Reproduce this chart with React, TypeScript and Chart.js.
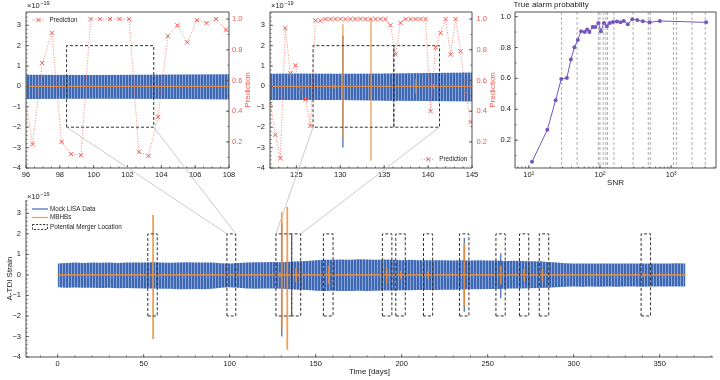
import React, { useEffect, useRef } from 'react';
import { Chart, registerables } from 'chart.js';

Chart.register(...registerables);

const FONT = "'Liberation Sans', Arial, Helvetica, sans-serif";
const TEXT = '#1c1c1c';
const FRAME = '#505050';
const BLUE_DARK = '#3f68b2';
const BLUE_LIGHT = '#88a6db';
const ORANGE = 'rgba(236,142,58,0.85)';
const RED = '#f2584d';
const RED_LINE = 'rgba(242,88,77,0.8)';
const PURPLE = '#7556bf';
const LINK = '#bdbdbd';
const BOX = '#333333';

// ---------------- data ----------------
// Mock LISA data: strain envelope (x1e-19), sampled every 5 days
const envelopeDays = [0, 5, 10, 15, 20, 25, 30, 35, 40, 45, 50, 55, 60, 65, 70, 75, 80, 85, 90, 95, 100, 105, 110, 115, 120, 125, 130, 135, 140, 145, 150, 155, 160, 165, 170, 175, 180, 185, 190, 195, 200, 205, 210, 215, 220, 225, 230, 235, 240, 245, 250, 255, 260, 265, 270, 275, 280, 285, 290, 295, 300, 305, 310, 315, 320, 325, 330, 335, 340, 345, 350, 355, 360, 365];
const envelopeUpper = [0.56, 0.58, 0.6, 0.58, 0.61, 0.59, 0.6, 0.58, 0.6, 0.61, 0.6, 0.62, 0.6, 0.59, 0.61, 0.62, 0.6, 0.61, 0.6, 0.57, 0.56, 0.58, 0.6, 0.62, 0.62, 0.63, 0.62, 0.64, 0.66, 0.68, 0.72, 0.74, 0.74, 0.75, 0.74, 0.76, 0.75, 0.74, 0.75, 0.74, 0.72, 0.74, 0.72, 0.72, 0.71, 0.72, 0.7, 0.72, 0.7, 0.71, 0.7, 0.7, 0.68, 0.69, 0.68, 0.66, 0.66, 0.63, 0.6, 0.57, 0.55, 0.56, 0.55, 0.56, 0.55, 0.56, 0.55, 0.56, 0.55, 0.56, 0.55, 0.56, 0.57, 0.55];
const envelopeLower = [-0.6, -0.62, -0.61, -0.63, -0.62, -0.64, -0.63, -0.65, -0.64, -0.65, -0.66, -0.66, -0.67, -0.68, -0.7, -0.7, -0.69, -0.7, -0.68, -0.62, -0.6, -0.62, -0.66, -0.68, -0.66, -0.66, -0.67, -0.7, -0.72, -0.74, -0.77, -0.78, -0.77, -0.78, -0.79, -0.77, -0.78, -0.77, -0.76, -0.76, -0.75, -0.75, -0.74, -0.73, -0.74, -0.72, -0.72, -0.71, -0.7, -0.7, -0.69, -0.69, -0.68, -0.66, -0.66, -0.65, -0.64, -0.62, -0.6, -0.58, -0.57, -0.58, -0.56, -0.58, -0.57, -0.58, -0.57, -0.56, -0.58, -0.57, -0.56, -0.57, -0.56, -0.56];
// signal peaks visible in the mock data
const dataSpikeDays = [130.3, 236.4, 257.6];
const dataSpikeHi = [2.5, 1.8, 1.06];
const dataSpikeLo = [-3.0, -1.8, -1.14];

// MBHB signals
const mbhbBaselineDays = [0, 365];
const mbhbDays = [55.5, 129.3, 130.3, 133.5, 138.6, 140.6, 157.6, 191.3, 199.6, 215.4, 236.4, 257.6, 271.2, 281.8, 340.6];
const mbhbHi = [2.92, 0.1, 3.05, 3.32, 0.35, 0.1, 0.45, 0.35, 0.2, 0.2, 1.55, 0.45, 0.3, 0.3, 0.1];
const mbhbLo = [-3.12, -0.1, -2.55, -3.65, -0.35, -0.1, -0.45, -0.4, -0.2, -0.2, -1.55, -0.45, -0.3, -0.3, -0.1];

// Potential merger locations (days), boxes spanning strain -2..2
const boxStart = [52.4, 98.4, 126.9, 136.1, 154.5, 188.8, 196.6, 212.7, 233.6, 254.8, 268.5, 280.0, 339.2];
const boxEnd = [57.9, 103.55, 136.1, 141.3, 160.1, 194.3, 202.1, 218.0, 239.1, 260.2, 273.9, 285.5, 344.7];
const boxLow = -2;
const boxHigh = 2;

// Predictions, zoom A (96-108 days)
const predDaysA = [95.82, 96.39, 96.96, 97.53, 98.1, 98.67, 99.25, 99.82, 100.39, 100.96, 101.53, 102.1, 102.67, 103.24, 103.81, 104.38, 104.95, 105.53, 106.1, 106.67, 107.24, 107.81, 108.38];
const predA = [0.57, 0.185, 0.713, 0.911, 0.2, 0.12, 0.113, 1.0, 1.0, 1.0, 1.0, 1.0, 0.135, 0.109, 0.363, 0.889, 0.959, 0.848, 0.993, 0.974, 1.0, 0.93, 0.9];

// Predictions, zoom B (122-145 days)
const predDaysB = [122.04, 122.61, 123.18, 123.75, 124.32, 124.89, 125.46, 126.03, 126.6, 127.17, 127.74, 128.31, 128.88, 129.45, 130.02, 130.59, 131.16, 131.73, 132.3, 132.87, 133.44, 134.01, 134.58, 135.15, 135.72, 136.29, 136.86, 137.43, 138.0, 138.57, 139.14, 139.71, 140.28, 140.85, 141.42, 141.99, 142.56, 143.13, 143.7, 144.27, 144.84];
const predB = [0.45, 0.246, 0.093, 0.941, 0.646, 0.698, 0.541, 0.476, 0.304, 0.991, 0.989, 1.0, 1.0, 1.0, 1.0, 1.0, 1.0, 1.0, 1.0, 1.0, 1.0, 1.0, 1.0, 1.0, 0.96, 0.77, 0.975, 1.0, 1.0, 1.0, 1.0, 1.0, 0.4, 0.815, 0.91, 1.0, 0.77, 1.0, 0.79, 0.52, 0.33];

// True alarm probability vs SNR
const snrValues = [11.1, 18.2, 23.8, 28.6, 34.3, 39.0, 43.8, 48.8, 54.3, 61.0, 66.0, 71.0, 79.0, 86.0, 94.8, 103, 114, 125, 138, 153, 173, 194, 216, 246, 285, 335, 400, 499, 694, 3100];
const alarmProb = [0.06, 0.267, 0.459, 0.597, 0.603, 0.722, 0.802, 0.849, 0.905, 0.901, 0.916, 0.901, 0.933, 0.933, 0.959, 0.905, 0.959, 0.937, 0.959, 0.966, 0.968, 0.963, 0.972, 0.95, 0.983, 0.978, 0.97, 0.963, 0.972, 0.963];
const mbhbSnr = [28.9, 47.7, 94.9, 100, 111, 121, 128, 157, 292, 477, 509, 1079, 1187, 1963, 3014];

// ticks
const strainTicks = [-4, -3, -2, -1, 0, 1, 2, 3];
const predTicks = [0.2, 0.4, 0.6, 0.8, 1.0];
const zoomATicks = [96, 98, 100, 102, 104, 106, 108];
const zoomBTicks = [125, 130, 135, 140, 145];
const dayTicks = [0, 50, 100, 150, 200, 250, 300, 350];
const snrTicks = [10, 100, 1000];
const snrTickLabels = ['10¹', '10²', '10³'];
const probTicks = [0.2, 0.4, 0.6, 0.8, 1.0];

// axis limits
const STRAIN_MIN = -4, STRAIN_MAX = 3.65;
const PRED_MIN = 0.03, PRED_MAX = 1.046;
const PROB_MIN = 0.02, PROB_MAX = 1.03;
const SNR_MIN = 6.4, SNR_MAX = 4270;
const DAY_MIN = -18.4, DAY_MAX = 381;
const ZOOM_A_MIN = 96, ZOOM_A_MAX = 108;
const ZOOM_B_MIN = 122, ZOOM_B_MAX = 145;

// layout of the four panels
const PANELS = [
  { left: 0, top: 0, width: 262, height: 182 },
  { left: 240, top: 0, width: 270, height: 182 },
  { left: 490, top: 0, width: 230, height: 200 },
  { left: 0, top: 186, width: 720, height: 194 },
];

// ---------------- helpers ----------------
function steps(a: number, b: number, step: number) {
  const out: number[] = [];
  for (let v = a; v <= b + 1e-9; v += step) out.push(Math.round(v * 1000) / 1000);
  return out;
}
function logMinor(lo: number, hi: number) {
  const out: number[] = [];
  for (let p = 1; p <= 1000; p *= 10) for (let m = 1; m <= 9; m++) { const v = m * p; if (v >= lo && v <= hi) out.push(v); }
  return out;
}
function segments(xs: number[], his: number[], los: number[]) {
  const out: any[] = [];
  xs.forEach((x, i) => { out.push({ x, y: his[i] }, { x, y: los[i] }, { x, y: null }); });
  return out;
}
function boxPath() {
  const out: any[] = [];
  boxStart.forEach((s, i) => {
    const e = boxEnd[i];
    out.push({ x: s, y: boxLow }, { x: s, y: boxHigh }, { x: e, y: boxHigh }, { x: e, y: boxLow }, { x: s, y: boxLow }, { x: s, y: null });
  });
  return out;
}
const fmtStrain = (v: number) => (v < 0 ? '\u2212' + Math.abs(v) : String(v));
const fmtFixed = (v: number) => v.toFixed(1);

function stripePattern(canvas: HTMLCanvasElement) {
  const c = document.createElement('canvas');
  c.width = 3; c.height = 1;
  const g = c.getContext('2d')!;
  g.fillStyle = BLUE_DARK; g.fillRect(0, 0, 3, 1);
  g.fillStyle = BLUE_LIGHT; g.fillRect(2, 0, 1, 1);
  return canvas.getContext('2d')!.createPattern(c, 'repeat')!;
}

function strainDatasets(pattern: any, orangeWidth: number) {
  const baseline = [{ x: mbhbBaselineDays[0], y: 0 }, { x: mbhbBaselineDays[1], y: 0 }, { x: mbhbBaselineDays[1], y: null }];
  return [
    { label: 'Mock LISA Data', data: envelopeDays.map((x, i) => ({ x, y: envelopeUpper[i] })), borderWidth: 0, borderColor: 'rgba(0,0,0,0)', pointRadius: 0, fill: '+1', backgroundColor: pattern, order: 6, yAxisID: 'y', clip: 0 },
    { label: 'lower', data: envelopeDays.map((x, i) => ({ x, y: envelopeLower[i] })), borderWidth: 0, borderColor: 'rgba(0,0,0,0)', pointRadius: 0, fill: false, order: 7, yAxisID: 'y', clip: 0 },
    { label: 'spikes', data: segments(dataSpikeDays, dataSpikeHi, dataSpikeLo), borderColor: BLUE_DARK, borderWidth: 1.2, pointRadius: 0, order: 5, yAxisID: 'y', clip: 0 },
    { label: 'MBHBs', data: [...baseline, ...segments(mbhbDays, mbhbHi, mbhbLo)], borderColor: ORANGE, borderWidth: orangeWidth, pointRadius: 0, order: 4, yAxisID: 'y', clip: 0 },
    { label: 'Potential Merger Location', data: boxPath(), borderColor: BOX, borderWidth: 1, borderDash: [3, 2], pointRadius: 0, order: 3, yAxisID: 'y', clip: 0 },
  ];
}
function predDataset(days: number[], vals: number[]) {
  return {
    label: 'Prediction', data: days.map((x, i) => ({ x, y: vals[i] })), yAxisID: 'y1',
    borderColor: RED_LINE, borderWidth: 0.9, borderDash: [1, 1.6],
    pointStyle: 'crossRot', pointRadius: 3, pointBorderColor: RED, pointBorderWidth: 1, pointBackgroundColor: RED,
    order: 0, clip: 0,
  };
}

function linScale(min: number, max: number, ticks: number[], size: number, opts: any = {}) {
  const horizontal = opts.position === 'bottom' || !opts.position;
  return {
    type: opts.type || 'linear',
    position: opts.position || 'bottom',
    min, max,
    afterBuildTicks: (s: any) => { s.ticks = ticks.map((v) => ({ value: v })); },
    afterFit: (s: any) => { if (horizontal) s.height = size; else s.width = size; },
    grid: { display: false, drawTicks: false },
    border: { display: false },
    ticks: {
      font: { size: 7.5, family: FONT }, color: opts.color || TEXT, padding: opts.padding ?? 2,
      maxRotation: 0, minRotation: 0, autoSkip: false,
      callback: opts.fmt || ((v: number) => String(v)),
    },
  };
}

type TickSpec = { id: string; side: 'left' | 'right' | 'bottom'; major: number[]; minor: number[] };
function decor(frame: 'box' | 'lb', specs: TickSpec[], extra: (ctx: CanvasRenderingContext2D, a: any) => void) {
  return {
    id: 'decor',
    afterDraw(chart: any) {
      const ctx: CanvasRenderingContext2D = chart.ctx;
      const a = chart.chartArea;
      ctx.save();
      ctx.strokeStyle = FRAME;
      ctx.lineWidth = 0.8;
      for (const t of specs) {
        const s = chart.scales[t.id];
        const draw = (v: number, len: number) => {
          if (v < s.min || v > s.max) return;
          const p = s.getPixelForValue(v);
          ctx.beginPath();
          if (t.side === 'left') { ctx.moveTo(a.left, p); ctx.lineTo(a.left + len, p); }
          else if (t.side === 'right') { ctx.moveTo(a.right, p); ctx.lineTo(a.right - len, p); }
          else { ctx.moveTo(p, a.bottom); ctx.lineTo(p, a.bottom - len); }
          ctx.stroke();
        };
        t.minor.forEach((v) => draw(v, 1.6));
        t.major.forEach((v) => draw(v, 3));
      }
      ctx.lineWidth = 1;
      ctx.beginPath();
      if (frame === 'box') {
        ctx.rect(a.left, a.top, a.right - a.left, a.bottom - a.top);
      } else {
        ctx.moveTo(a.left, a.top); ctx.lineTo(a.left, a.bottom); ctx.lineTo(a.right, a.bottom);
      }
      ctx.stroke();
      extra(ctx, a);
      ctx.restore();
    },
  };
}

function sciLabel(ctx: CanvasRenderingContext2D, x: number, y: number) {
  ctx.fillStyle = TEXT;
  ctx.textAlign = 'left';
  ctx.textBaseline = 'alphabetic';
  ctx.font = `7.5px ${FONT}`;
  ctx.fillText('×10', x, y);
  const w = ctx.measureText('×10').width;
  ctx.font = `5.5px ${FONT}`;
  ctx.fillText('\u221219', x + w + 0.5, y - 3.5);
}
function rotatedText(ctx: CanvasRenderingContext2D, s: string, x: number, y: number, color: string, size: number) {
  ctx.save();
  ctx.translate(x, y);
  ctx.rotate(-Math.PI / 2);
  ctx.fillStyle = color;
  ctx.font = `${size}px ${FONT}`;
  ctx.textAlign = 'center';
  ctx.textBaseline = 'middle';
  ctx.fillText(s, 0, 0);
  ctx.restore();
}
function plainText(ctx: CanvasRenderingContext2D, s: string, x: number, y: number, size: number, align: CanvasTextAlign) {
  ctx.fillStyle = TEXT;
  ctx.font = `${size}px ${FONT}`;
  ctx.textAlign = align;
  ctx.textBaseline = 'middle';
  ctx.fillText(s, x, y);
}
function predLegend(ctx: CanvasRenderingContext2D, x0: number, y: number) {
  ctx.save();
  ctx.strokeStyle = RED_LINE; ctx.lineWidth = 0.9; ctx.setLineDash([1, 1.6]);
  ctx.beginPath(); ctx.moveTo(x0, y); ctx.lineTo(x0 + 13, y); ctx.stroke();
  ctx.setLineDash([]);
  ctx.strokeStyle = RED; ctx.lineWidth = 1;
  const cx = x0 + 6.5, r = 2.1;
  ctx.beginPath();
  ctx.moveTo(cx - r, y - r); ctx.lineTo(cx + r, y + r);
  ctx.moveTo(cx - r, y + r); ctx.lineTo(cx + r, y - r);
  ctx.stroke();
  ctx.restore();
  plainText(ctx, 'Prediction', x0 + 17.5, y, 6.3, 'left');
}

const baseOptions = (padding: any) => ({
  responsive: false,
  animation: false as const,
  events: [] as any[],
  layout: { padding },
  plugins: { legend: { display: false }, tooltip: { enabled: false }, title: { display: false } },
});

// ---------------- component ----------------
export default function App() {
  const r0 = useRef<HTMLCanvasElement>(null);
  const r1 = useRef<HTMLCanvasElement>(null);
  const r2 = useRef<HTMLCanvasElement>(null);
  const r3 = useRef<HTMLCanvasElement>(null);
  const ov = useRef<HTMLCanvasElement>(null);

  useEffect(() => {
    Chart.defaults.font.family = FONT;
    const cv = [r0.current!, r1.current!, r2.current!, r3.current!];
    const charts: any[] = [];

    // Panel A: zoom 96-108
    charts.push(new Chart(cv[0], {
      type: 'line',
      data: { datasets: [predDataset(predDaysA, predA), ...strainDatasets(stripePattern(cv[0]), 1.3)] as any },
      options: {
        ...baseOptions({ top: 12, left: 0, right: 0, bottom: 0 }),
        scales: {
          x: linScale(ZOOM_A_MIN, ZOOM_A_MAX, zoomATicks, 14),
          y: linScale(STRAIN_MIN, STRAIN_MAX, strainTicks, 26, { position: 'left', padding: 5, fmt: fmtStrain }),
          y1: linScale(PRED_MIN, PRED_MAX, predTicks, 33, { position: 'right', padding: 3, color: RED, fmt: fmtFixed }),
        },
      } as any,
      plugins: [decor('box', [
        { id: 'x', side: 'bottom', major: zoomATicks, minor: steps(96, 108, 0.5) },
        { id: 'y', side: 'left', major: strainTicks, minor: steps(-4, 3.6, 0.2) },
        { id: 'y1', side: 'right', major: predTicks, minor: steps(0.1, 1.0, 0.1) },
      ], (ctx, a) => {
        sciLabel(ctx, a.left + 1, a.top - 4);
        predLegend(ctx, a.left + 6, a.top + 8);
        rotatedText(ctx, 'Prediction', a.right + 19, (a.top + a.bottom) / 2, RED, 8);
      })],
    }));

    // Panel B: zoom 122-145
    charts.push(new Chart(cv[1], {
      type: 'line',
      data: { datasets: [predDataset(predDaysB, predB), ...strainDatasets(stripePattern(cv[1]), 1.3)] as any },
      options: {
        ...baseOptions({ top: 12, left: 0, right: 0, bottom: 0 }),
        scales: {
          x: linScale(ZOOM_B_MIN, ZOOM_B_MAX, zoomBTicks, 14),
          y: linScale(STRAIN_MIN, STRAIN_MAX, strainTicks, 30, { position: 'left', padding: 5, fmt: fmtStrain }),
          y1: linScale(PRED_MIN, PRED_MAX, predTicks, 38, { position: 'right', padding: 4.5, color: RED, fmt: fmtFixed }),
        },
      } as any,
      plugins: [decor('box', [
        { id: 'x', side: 'bottom', major: zoomBTicks, minor: steps(122, 145, 1) },
        { id: 'y', side: 'left', major: strainTicks, minor: steps(-4, 3.6, 0.2) },
        { id: 'y1', side: 'right', major: predTicks, minor: steps(0.1, 1.0, 0.1) },
      ], (ctx, a) => {
        sciLabel(ctx, a.left + 1, a.top - 4);
        predLegend(ctx, a.right - 50.3, a.bottom - 8.7);
        rotatedText(ctx, 'Prediction', a.right + 21, (a.top + a.bottom) / 2, RED, 8);
      })],
    }));

    // Panel C: true alarm probability vs SNR
    charts.push(new Chart(cv[2], {
      type: 'line',
      data: {
        datasets: [
          { label: 'prob', data: snrValues.map((x, i) => ({ x, y: alarmProb[i] })), borderColor: PURPLE, borderWidth: 1, pointRadius: 2, pointBackgroundColor: PURPLE, pointBorderWidth: 0, order: 0, clip: 0 },
          { label: 'mbhb', data: segments(mbhbSnr, mbhbSnr.map(() => PROB_MAX), mbhbSnr.map(() => PROB_MIN)), borderColor: '#9a9a9a', borderWidth: 0.8, borderDash: [3, 2], pointRadius: 0, order: 1, clip: 0 },
        ] as any,
      },
      options: {
        ...baseOptions({ top: 12, left: 0, right: 3, bottom: 0 }),
        scales: {
          x: linScale(SNR_MIN, SNR_MAX, snrTicks, 32, { type: 'logarithmic', fmt: (v: number) => snrTickLabels[snrTicks.indexOf(v)] ?? '' }),
          y: linScale(PROB_MIN, PROB_MAX, probTicks, 25, { position: 'left', padding: 4, fmt: fmtFixed }),
        },
      } as any,
      plugins: [decor('box', [
        { id: 'x', side: 'bottom', major: snrTicks, minor: logMinor(SNR_MIN, SNR_MAX) },
        { id: 'y', side: 'left', major: probTicks, minor: steps(0.1, 1.0, 0.1) },
      ], (ctx, a) => {
        plainText(ctx, 'True alarm probablity', a.left - 1.5, 5, 8, 'left');
        plainText(ctx, 'SNR', (a.left + a.right) / 2, 183, 8, 'center');
      })],
    }));

    // Panel D: full year
    charts.push(new Chart(cv[3], {
      type: 'line',
      data: { datasets: strainDatasets(stripePattern(cv[3]), 1.8) as any },
      options: {
        ...baseOptions({ top: 14, left: 0, right: 7, bottom: 0 }),
        scales: {
          x: linScale(DAY_MIN, DAY_MAX, dayTicks, 23),
          y: linScale(STRAIN_MIN, STRAIN_MAX, strainTicks, 26, { position: 'left', padding: 5, fmt: fmtStrain }),
        },
      } as any,
      plugins: [decor('lb', [
        { id: 'x', side: 'bottom', major: dayTicks, minor: steps(-10, 380, 10) },
        { id: 'y', side: 'left', major: strainTicks, minor: steps(-4, 3.6, 0.2) },
      ], (ctx, a) => {
        sciLabel(ctx, a.left + 1, a.top - 1);
        const lx = a.left + 6, lw = 16;
        ctx.save();
        ctx.lineWidth = 1.2;
        ctx.strokeStyle = BLUE_DARK;
        ctx.beginPath(); ctx.moveTo(lx, a.top + 9); ctx.lineTo(lx + lw, a.top + 9); ctx.stroke();
        ctx.strokeStyle = ORANGE;
        ctx.beginPath(); ctx.moveTo(lx, a.top + 17.5); ctx.lineTo(lx + lw, a.top + 17.5); ctx.stroke();
        ctx.lineWidth = 1;
        ctx.setLineDash([2, 1.5]);
        ctx.strokeStyle = BOX;
        ctx.strokeRect(lx + 0.5, a.top + 24.5, lw - 1, 5);
        ctx.restore();
        plainText(ctx, 'Mock LISA Data', a.left + 24, a.top + 9, 6.3, 'left');
        plainText(ctx, 'MBHBs', a.left + 24, a.top + 17.5, 6.3, 'left');
        plainText(ctx, 'Potential Merger Location', a.left + 24, a.top + 27, 6.3, 'left');
        rotatedText(ctx, 'A-TDI Strain', 10, (a.top + a.bottom) / 2, TEXT, 8);
        plainText(ctx, 'Time [days]', (a.left + a.right) / 2, 186, 8, 'center');
      })],
    }));

    // zoom connection lines
    const o = ov.current!;
    const octx = o.getContext('2d')!;
    octx.clearRect(0, 0, o.width, o.height);
    const main = charts[3];
    const links = [
      { panel: 0, day: boxStart[1] },
      { panel: 0, day: boxEnd[1] },
      { panel: 1, day: boxStart[2] },
      { panel: 1, day: boxEnd[3] },
    ];
    octx.strokeStyle = LINK;
    octx.lineWidth = 0.8;
    links.forEach((l) => {
      const c = charts[l.panel];
      const p = PANELS[l.panel];
      const x0 = p.left + c.scales.x.getPixelForValue(l.day);
      const y0 = p.top + c.scales.y.getPixelForValue(boxLow);
      const x1 = PANELS[3].left + main.scales.x.getPixelForValue(l.day);
      const y1 = PANELS[3].top + main.scales.y.getPixelForValue(boxHigh);
      octx.beginPath(); octx.moveTo(x0, y0); octx.lineTo(x1, y1); octx.stroke();
    });

    return () => {
      charts.forEach((c) => c.destroy());
      octx.clearRect(0, 0, o.width, o.height);
    };
  }, []);

  const refs = [r0, r1, r2, r3];
  return (
    <div style={{ position: 'fixed', left: 0, top: 0, width: 720, height: 380, background: '#fff', overflow: 'hidden' }}>
      {PANELS.map((p, i) => (
        <canvas key={i} ref={refs[i]} width={p.width} height={p.height}
          style={{ position: 'absolute', left: p.left, top: p.top, width: p.width, height: p.height }} />
      ))}
      <canvas ref={ov} width={720} height={380}
        style={{ position: 'absolute', left: 0, top: 0, width: 720, height: 380, pointerEvents: 'none' }} />
    </div>
  );
}
